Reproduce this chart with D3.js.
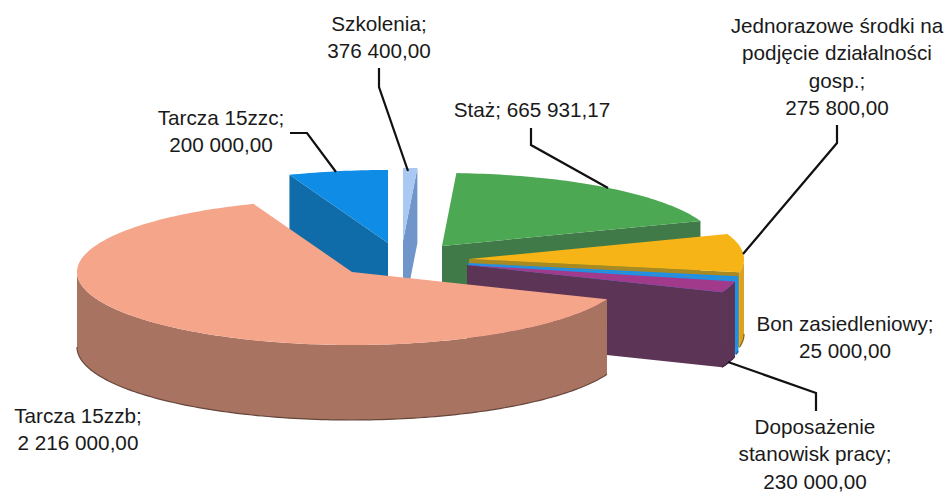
<!DOCTYPE html>
<html>
<head>
<meta charset="utf-8">
<style>
  body { margin: 0; background: #fff; }
  text { font-family: "Liberation Sans", Arial, sans-serif; font-size: 20.7px; fill: #1a1a1a; }
</style>
</head>
<body>
<div class="chart"></div>
<script src="https://d3js.org/d3.v7.min.js"></script>
<script>
  // Labelled values, clockwise from the top of the pie
  const categories = [
    ["Szkolenia;"],
    ["Staż;"],
    ["Jednorazowe środki na", "podjęcie działalności", "gosp.;"],
    ["Bon zasiedleniowy;"],
    ["Doposażenie", "stanowisk pracy;"],
    ["Tarcza 15zzb;"],
    ["Tarcza 15zzc;"]
  ];
  const values = [376400, 665931.17, 275800, 25000, 230000, 2216000, 200000];

  // The sizes the wedges have in the picture (they do not follow the printed labels)
  const drawnShares = [3, 67, 30.5, 2.5, 9, 227, 21];

  const topColors = ["#a9c9f2", "#4da853", "#f6b417", "#1e90e8", "#a23a8c", "#f5a58a", "#0f8de6"];
  const faceColors = ["#6f95ca", "#3f7a48", "#a98a22", "#1e90e8", "#5c3556", "#a87361", "#106ca8"];
  const wallColors = ["#6f95ca", "#3f7a48", "#dca21c", "#1e90e8", "#5c3556", "#a87361", "#106ca8"];

  // apex of every wedge after it was pulled out of the pie
  const apexes = [[403, 241], [442, 246], [469, 259], [468, 263], [467, 265], [352, 272], [388, 243]];
  const drawOrder = [0, 6, 1, 2, 3, 4, 5];

  const labelAnchors = [
    { x: 379, y: 31 }, { x: 532, y: 117 }, { x: 837, y: 33 }, { x: 845, y: 331 },
    { x: 815, y: 434 }, { x: 78, y: 423 }, { x: 221, y: 125 }
  ];
  const leaders = [
    [[379, 68], [379, 87], [408, 171]],
    [[531, 128], [531, 145], [608, 188]],
    [[837, 125], [837, 143], [743, 254]],
    [],
    [[728, 362], [816, 393], [816, 411]],
    [],
    [[290, 133], [307, 133], [336, 172]]
  ];

  const width = 949,
        height = 492,
        depth = 75,
        lineHeight = 27.3;

  const svg = d3.select('.chart')
                .append('svg')
                .attr('width', width)
                .attr('height', height);

  const money = d3.formatLocale({ decimal: ",", thousands: " ", grouping: [3] }).format(",.2f");

  // unit circle -> flattened ellipse around an apex
  const xScale = d3.scaleLinear().domain([-1, 1]).range([-275, 275]);
  const yScale = d3.scaleLinear().domain([-1, 1]).range([-73, 73]);

  const slices = d3.pie()
                   .value(d => d)
                   .sort(null)
                   .startAngle(0)
                   .endAngle(2 * Math.PI)(drawnShares);

  const rim = (a, c, dy = 0) => [c[0] + xScale(Math.sin(a)), c[1] + yScale(-Math.cos(a)) + dy];
  const line = d3.line();

  function arcPoints(a0, a1, c, dy) {
    const n = Math.max(2, Math.ceil((a1 - a0) / 0.02));
    return d3.range(n + 1).map(i => rim(a0 + (a1 - a0) * i / n, c, dy));
  }

  function drawFace(a, c, color) {
    svg.append("path")
       .attr("d", line([c, rim(a, c), rim(a, c, depth), [c[0], c[1] + depth]]) + "Z")
       .attr("fill", color);
  }

  drawOrder.forEach(i => {
    const s = slices[i], c = apexes[i];

    // outer wall, only the part turned to the viewer
    const w0 = Math.max(s.startAngle, Math.PI / 2),
          w1 = Math.min(s.endAngle, Math.PI * 1.5);
    if (w1 > w0) {
      const front = arcPoints(w0, w1, c, 0),
            back = arcPoints(w0, w1, c, depth).reverse();
      svg.append("path")
         .attr("d", line(front.concat(back)) + "Z")
         .attr("fill", wallColors[i]);
      svg.append("path")
         .attr("d", line(arcPoints(w0, w1, c, depth)))
         .attr("fill", "none")
         .attr("stroke", d3.color(wallColors[i]).darker(1.4))
         .attr("stroke-width", 1.2);
    }

    // cut faces
    if (Math.sin(s.startAngle) < -1e-6) drawFace(s.startAngle, c, faceColors[i]);
    if (Math.sin(s.endAngle) > 1e-6) drawFace(s.endAngle, c, faceColors[i]);

    // top
    svg.append("path")
       .attr("d", line([c].concat(arcPoints(s.startAngle, s.endAngle, c, 0))) + "Z")
       .attr("fill", topColors[i]);
  });

  // leader lines
  svg.selectAll(".leader")
     .data(leaders.filter(d => d.length))
     .join("path")
     .attr("class", "leader")
     .attr("d", d => line(d))
     .attr("fill", "none")
     .attr("stroke", "#111")
     .attr("stroke-width", 2.2);

  // labels
  categories.forEach((lines, i) => {
    const text = svg.append("text")
                    .attr("text-anchor", "middle")
                    .attr("x", labelAnchors[i].x)
                    .attr("y", labelAnchors[i].y);
    const rows = lines.length === 1 && lines[0] === "Staż;"
      ? [lines[0] + " " + money(values[i])]
      : lines.concat(money(values[i]));
    rows.forEach((row, j) => {
      text.append("tspan")
          .attr("x", labelAnchors[i].x)
          .attr("dy", j ? lineHeight : 0)
          .text(row);
    });
  });
</script>
</body>
</html>
